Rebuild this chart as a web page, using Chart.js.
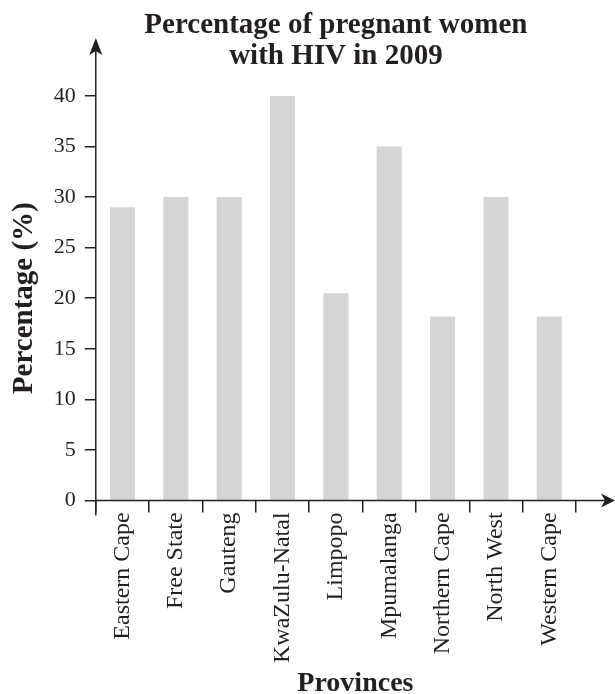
<!DOCTYPE html>
<html>
<head>
<meta charset="utf-8">
<title>Percentage of pregnant women with HIV in 2009</title>
<script src="https://cdn.jsdelivr.net/npm/chart.js@4/dist/chart.umd.min.js"></script>
<style>
    html, body { margin: 0; padding: 0; background: #fff; }
    #contenedor { width: 615px; height: 694px; position: relative; }
</style>
</head>
<body>
<div id="contenedor"><canvas id="chartVIH"></canvas></div>
<script>
// Datos
const provincias = ['Eastern Cape', 'Free State', 'Gauteng', 'KwaZulu-Natal', 'Limpopo',
    'Mpumalanga', 'Northern Cape', 'North West', 'Western Cape'];
const porcentajes = [29, 30, 30, 40, 20.5, 35, 18.2, 30, 18.2];
const ticksY = [0, 5, 10, 15, 20, 25, 30, 35, 40];
const tituloLineas = ['Percentage of pregnant women', 'with HIV in 2009'];
const tituloEjeX = 'Provinces';
const tituloEjeY = 'Percentage (%)';

const FUENTE = '"Liberation Serif", "Times New Roman", serif';
const NEGRO = '#231f20';

// Ejes con flechas y titulos (dibujados encima de las barras)
const ejesConFlechas = {
    id: 'ejesConFlechas',
    afterDraw(chart) {
        const { ctx, chartArea } = chart;
        const x0 = chartArea.left;
        const y0 = chart.scales.y.getPixelForValue(0);
        const finX = chart.width;
        const finY = 38;

        ctx.save();
        ctx.strokeStyle = NEGRO;
        ctx.fillStyle = NEGRO;
        ctx.lineWidth = 1.5;

        // eje Y
        ctx.beginPath();
        ctx.moveTo(x0, chartArea.bottom + 15);
        ctx.lineTo(x0, finY + 10);
        ctx.stroke();
        ctx.beginPath();
        ctx.moveTo(x0, finY);
        ctx.lineTo(x0 - 6.5, finY + 17);
        ctx.lineTo(x0, finY + 13);
        ctx.lineTo(x0 + 6.5, finY + 17);
        ctx.closePath();
        ctx.fill();

        // eje X
        ctx.beginPath();
        ctx.moveTo(x0, y0);
        ctx.lineTo(finX - 10, y0);
        ctx.stroke();
        ctx.beginPath();
        ctx.moveTo(finX, y0);
        ctx.lineTo(finX - 14, y0 - 7);
        ctx.lineTo(finX - 10, y0);
        ctx.lineTo(finX - 14, y0 + 7);
        ctx.closePath();
        ctx.fill();

        // titulo principal
        ctx.textAlign = 'center';
        ctx.textBaseline = 'alphabetic';
        ctx.font = 'bold 29px ' + FUENTE;
        const centroTitulo = (chartArea.left + chartArea.right) / 2;
        ctx.fillText(tituloLineas[0], centroTitulo, 33);
        ctx.fillText(tituloLineas[1], centroTitulo, 64);

        // titulo del eje X
        ctx.font = 'bold 28px ' + FUENTE;
        ctx.fillText(tituloEjeX, (x0 + finX) / 2, 691);
        ctx.restore();
    }
};

const ctxVIH = document.getElementById('chartVIH').getContext('2d');
const chartVIH = new Chart(ctxVIH, {
    type: 'bar',
    data: {
        labels: provincias,
        datasets: [{
            label: tituloEjeY,
            data: porcentajes,
            backgroundColor: '#d4d5d7',
            borderWidth: 0,
            barPercentage: 0.47,
            categoryPercentage: 1
        }]
    },
    options: {
        responsive: true,
        maintainAspectRatio: false,
        animation: false,
        layout: {
            padding: { top: 96, right: 39, bottom: 31, left: 0 }
        },
        plugins: {
            legend: { display: false },
            title: { display: false },
            tooltip: { enabled: false }
        },
        scales: {
            x: {
                border: { display: false },
                grid: {
                    offset: true,
                    drawOnChartArea: false,
                    tickLength: 12,
                    color: NEGRO,
                    lineWidth: 1.5
                },
                ticks: {
                    autoSkip: false,
                    minRotation: 90,
                    maxRotation: 90,
                    padding: 0,
                    color: NEGRO,
                    font: { family: FUENTE, size: 24 }
                }
            },
            y: {
                min: ticksY[0],
                max: ticksY[ticksY.length - 1],
                afterBuildTicks: scale => {
                    scale.ticks = ticksY.map(v => ({ value: v }));
                },
                border: { display: false },
                grid: {
                    drawOnChartArea: false,
                    tickLength: 11,
                    color: NEGRO,
                    lineWidth: 1.5
                },
                ticks: {
                    padding: 9,
                    color: NEGRO,
                    font: { family: FUENTE, size: 22 }
                },
                title: {
                    display: true,
                    text: tituloEjeY,
                    color: NEGRO,
                    padding: { top: 7, bottom: 3 },
                    font: { family: FUENTE, size: 29, weight: 'bold', lineHeight: 1.2 }
                }
            }
        }
    },
    plugins: [ejesConFlechas]
});
</script>
</body>
</html>
